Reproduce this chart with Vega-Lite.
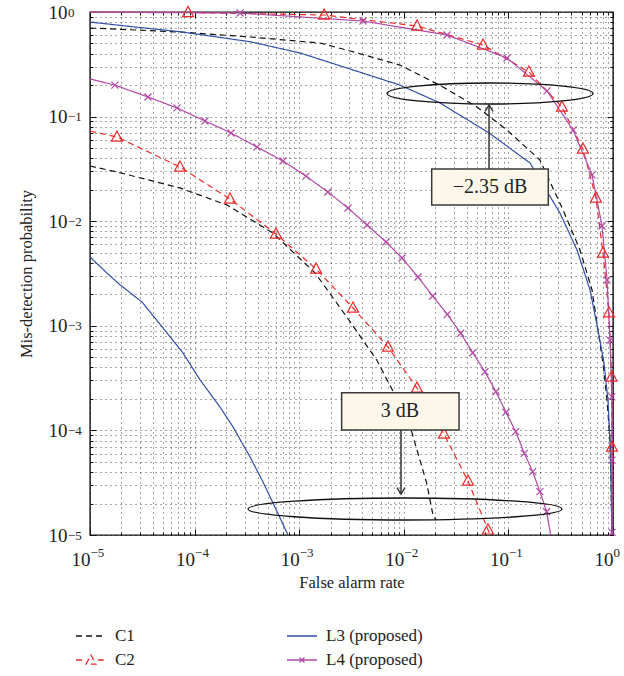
{
  "$schema": "https://vega.github.io/schema/vega-lite/v6.json",
  "width": 523,
  "height": 523,
  "autosize": "none",
  "padding": {"left": 90, "top": 12, "right": 11, "bottom": 141},
  "background": "white",
  "config": {
    "font": "Liberation Serif",
    "text": {"font": "Liberation Serif"},
    "view": {"stroke": "#111", "strokeWidth": 1.4},
    "axis": {"labelFont": "Liberation Serif", "titleFont": "Liberation Serif", "labelColor": "#222", "titleColor": "#222", "tickColor": "#111", "titleFontWeight": "normal"}
  },
  "datasets": {
    "curves": [
      {"series": "C1", "curve": "C1a", "x": 1e-5, "y": 0.703},
      {"series": "C1", "curve": "C1a", "x": 2.69e-5, "y": 0.673},
      {"series": "C1", "curve": "C1a", "x": 7.25e-5, "y": 0.644},
      {"series": "C1", "curve": "C1a", "x": 3.39e-4, "y": 0.577},
      {"series": "C1", "curve": "C1a", "x": 1.58e-3, "y": 0.505},
      {"series": "C1", "curve": "C1a", "x": 3.07e-3, "y": 0.424},
      {"series": "C1", "curve": "C1a", "x": 9.2e-3, "y": 0.311},
      {"series": "C1", "curve": "C1a", "x": 0.0237, "y": 0.192},
      {"series": "C1", "curve": "C1a", "x": 0.0501, "y": 0.1235},
      {"series": "C1", "curve": "C1a", "x": 0.097, "y": 0.0744},
      {"series": "C1", "curve": "C1a", "x": 0.2, "y": 0.0385},
      {"series": "C1", "curve": "C1a", "x": 0.333, "y": 0.0128},
      {"series": "C1", "curve": "C1a", "x": 0.484, "y": 0.0053},
      {"series": "C1", "curve": "C1a", "x": 0.63, "y": 0.0022},
      {"series": "C1", "curve": "C1a", "x": 0.719, "y": 9.1e-4},
      {"series": "C1", "curve": "C1a", "x": 0.802, "y": 4.41e-4},
      {"series": "C1", "curve": "C1a", "x": 0.877, "y": 1.95e-4},
      {"series": "C1", "curve": "C1a", "x": 0.935, "y": 8.1e-5},
      {"series": "C1", "curve": "C1a", "x": 0.957, "y": 3.36e-5},
      {"series": "C1", "curve": "C1a", "x": 0.977, "y": 1e-5},

      {"series": "C1", "curve": "C1b", "x": 1e-5, "y": 0.0337},
      {"series": "C1", "curve": "C1b", "x": 1.81e-5, "y": 0.02955},
      {"series": "C1", "curve": "C1b", "x": 7.25e-5, "y": 0.0208},
      {"series": "C1", "curve": "C1b", "x": 2.04e-4, "y": 0.01428},
      {"series": "C1", "curve": "C1b", "x": 5.62e-4, "y": 0.0077},
      {"series": "C1", "curve": "C1b", "x": 1.42e-3, "y": 0.0032},
      {"series": "C1", "curve": "C1b", "x": 2.84e-3, "y": 1.22e-3},
      {"series": "C1", "curve": "C1b", "x": 5.51e-3, "y": 4.71e-4},
      {"series": "C1", "curve": "C1b", "x": 7.94e-3, "y": 2.34e-4},
      {"series": "C1", "curve": "C1b", "x": 0.01189, "y": 9.72e-5},
      {"series": "C1", "curve": "C1b", "x": 0.01656, "y": 3.12e-5},
      {"series": "C1", "curve": "C1b", "x": 0.01914, "y": 1.5e-5},
      {"series": "C1", "curve": "C1b", "x": 0.0206, "y": 1.39e-5},

      {"series": "C2", "curve": "C2a", "x": 1e-5, "y": 0.995},
      {"series": "C2", "curve": "C2a", "x": 8.65e-5, "y": 0.99},
      {"series": "C2", "curve": "C2a", "x": 1.73e-3, "y": 0.936},
      {"series": "C2", "curve": "C2a", "x": 0.01337, "y": 0.735},
      {"series": "C2", "curve": "C2a", "x": 0.0571, "y": 0.484},
      {"series": "C2", "curve": "C2a", "x": 0.157, "y": 0.267},
      {"series": "C2", "curve": "C2a", "x": 0.325, "y": 0.1235},
      {"series": "C2", "curve": "C2a", "x": 0.516, "y": 0.049},
      {"series": "C2", "curve": "C2a", "x": 0.687, "y": 0.01667},
      {"series": "C2", "curve": "C2a", "x": 0.802, "y": 0.00497},
      {"series": "C2", "curve": "C2a", "x": 0.916, "y": 0.00133},
      {"series": "C2", "curve": "C2a", "x": 0.97, "y": 3.24e-4},
      {"series": "C2", "curve": "C2a", "x": 0.978, "y": 6.94e-5},
      {"series": "C2", "curve": "C2a", "x": 0.98, "y": 1e-5},

      {"series": "C2", "curve": "C2b", "x": 1e-5, "y": 0.0728},
      {"series": "C2", "curve": "C2b", "x": 1.81e-5, "y": 0.0638},
      {"series": "C2", "curve": "C2b", "x": 7.25e-5, "y": 0.033},
      {"series": "C2", "curve": "C2b", "x": 2.18e-4, "y": 0.0163},
      {"series": "C2", "curve": "C2b", "x": 6.0e-4, "y": 0.00755},
      {"series": "C2", "curve": "C2b", "x": 1.45e-3, "y": 0.00349},
      {"series": "C2", "curve": "C2b", "x": 3.27e-3, "y": 0.00148},
      {"series": "C2", "curve": "C2b", "x": 7.06e-3, "y": 6.27e-4},
      {"series": "C2", "curve": "C2b", "x": 0.01337, "y": 2.54e-4},
      {"series": "C2", "curve": "C2b", "x": 0.0242, "y": 9.24e-5},
      {"series": "C2", "curve": "C2b", "x": 0.0411, "y": 3.28e-5},
      {"series": "C2", "curve": "C2b", "x": 0.0638, "y": 1.12e-5},
      {"series": "C2", "curve": "C2b", "x": 0.0668, "y": 1e-5},

      {"series": "L3 (proposed)", "curve": "L3a", "x": 1e-5, "y": 0.802},
      {"series": "L3 (proposed)", "curve": "L3a", "x": 2.69e-5, "y": 0.719},
      {"series": "L3 (proposed)", "curve": "L3a", "x": 7.25e-5, "y": 0.648},
      {"series": "L3 (proposed)", "curve": "L3a", "x": 3.39e-4, "y": 0.52},
      {"series": "L3 (proposed)", "curve": "L3a", "x": 1.02e-3, "y": 0.406},
      {"series": "L3 (proposed)", "curve": "L3a", "x": 3.07e-3, "y": 0.285},
      {"series": "L3 (proposed)", "curve": "L3a", "x": 9.2e-3, "y": 0.2},
      {"series": "L3 (proposed)", "curve": "L3a", "x": 0.0222, "y": 0.135},
      {"series": "L3 (proposed)", "curve": "L3a", "x": 0.0653, "y": 0.0697},
      {"series": "L3 (proposed)", "curve": "L3a", "x": 0.161, "y": 0.036},
      {"series": "L3 (proposed)", "curve": "L3a", "x": 0.311, "y": 0.01198},
      {"series": "L3 (proposed)", "curve": "L3a", "x": 0.453, "y": 0.0053},
      {"series": "L3 (proposed)", "curve": "L3a", "x": 0.603, "y": 0.0022},
      {"series": "L3 (proposed)", "curve": "L3a", "x": 0.719, "y": 9.1e-4},
      {"series": "L3 (proposed)", "curve": "L3a", "x": 0.82, "y": 4.41e-4},
      {"series": "L3 (proposed)", "curve": "L3a", "x": 0.895, "y": 1.95e-4},
      {"series": "L3 (proposed)", "curve": "L3a", "x": 0.935, "y": 8.1e-5},
      {"series": "L3 (proposed)", "curve": "L3a", "x": 0.957, "y": 3.36e-5},
      {"series": "L3 (proposed)", "curve": "L3a", "x": 0.977, "y": 1e-5},

      {"series": "L3 (proposed)", "curve": "L3b", "x": 1e-5, "y": 0.00455},
      {"series": "L3 (proposed)", "curve": "L3b", "x": 1.45e-5, "y": 0.0032},
      {"series": "L3 (proposed)", "curve": "L3b", "x": 1.94e-5, "y": 0.00246},
      {"series": "L3 (proposed)", "curve": "L3b", "x": 3.14e-5, "y": 0.00169},
      {"series": "L3 (proposed)", "curve": "L3b", "x": 4.99e-5, "y": 9.53e-4},
      {"series": "L3 (proposed)", "curve": "L3b", "x": 7.74e-5, "y": 5.5e-4},
      {"series": "L3 (proposed)", "curve": "L3b", "x": 1.13e-4, "y": 3.03e-4},
      {"series": "L3 (proposed)", "curve": "L3b", "x": 1.75e-4, "y": 1.67e-4},
      {"series": "L3 (proposed)", "curve": "L3b", "x": 2.33e-4, "y": 1.08e-4},
      {"series": "L3 (proposed)", "curve": "L3b", "x": 3.39e-4, "y": 5.57e-5},
      {"series": "L3 (proposed)", "curve": "L3b", "x": 4.51e-4, "y": 3.21e-5},
      {"series": "L3 (proposed)", "curve": "L3b", "x": 5.62e-4, "y": 2.02e-5},
      {"series": "L3 (proposed)", "curve": "L3b", "x": 7.64e-4, "y": 1.05e-5},
      {"series": "L3 (proposed)", "curve": "L3b", "x": 7.8e-4, "y": 1e-5},

      {"series": "L4 (proposed)", "curve": "L4a", "x": 1e-5, "y": 0.995},
      {"series": "L4 (proposed)", "curve": "L4a", "x": 2.72e-4, "y": 0.978},
      {"series": "L4 (proposed)", "curve": "L4a", "x": 4.07e-3, "y": 0.82},
      {"series": "L4 (proposed)", "curve": "L4a", "x": 0.0259, "y": 0.603},
      {"series": "L4 (proposed)", "curve": "L4a", "x": 0.097, "y": 0.363},
      {"series": "L4 (proposed)", "curve": "L4a", "x": 0.234, "y": 0.176},
      {"series": "L4 (proposed)", "curve": "L4a", "x": 0.415, "y": 0.0744},
      {"series": "L4 (proposed)", "curve": "L4a", "x": 0.63, "y": 0.0277},
      {"series": "L4 (proposed)", "curve": "L4a", "x": 0.785, "y": 0.009},
      {"series": "L4 (proposed)", "curve": "L4a", "x": 0.877, "y": 0.00274},
      {"series": "L4 (proposed)", "curve": "L4a", "x": 0.936, "y": 7.3e-4},
      {"series": "L4 (proposed)", "curve": "L4a", "x": 0.975, "y": 2.09e-4},
      {"series": "L4 (proposed)", "curve": "L4a", "x": 0.978, "y": 5.2e-5},
      {"series": "L4 (proposed)", "curve": "L4a", "x": 0.98, "y": 1e-5},

      {"series": "L4 (proposed)", "curve": "L4b", "x": 1e-5, "y": 0.229},
      {"series": "L4 (proposed)", "curve": "L4b", "x": 1.73e-5, "y": 0.2},
      {"series": "L4 (proposed)", "curve": "L4b", "x": 3.58e-5, "y": 0.154},
      {"series": "L4 (proposed)", "curve": "L4b", "x": 6.79e-5, "y": 0.121},
      {"series": "L4 (proposed)", "curve": "L4b", "x": 1.257e-4, "y": 0.0908},
      {"series": "L4 (proposed)", "curve": "L4b", "x": 2.23e-4, "y": 0.0697},
      {"series": "L4 (proposed)", "curve": "L4b", "x": 3.95e-4, "y": 0.0512},
      {"series": "L4 (proposed)", "curve": "L4b", "x": 7.0e-4, "y": 0.0376},
      {"series": "L4 (proposed)", "curve": "L4b", "x": 1.16e-3, "y": 0.027},
      {"series": "L4 (proposed)", "curve": "L4b", "x": 1.88e-3, "y": 0.019},
      {"series": "L4 (proposed)", "curve": "L4b", "x": 2.93e-3, "y": 0.01337},
      {"series": "L4 (proposed)", "curve": "L4b", "x": 4.45e-3, "y": 0.0092},
      {"series": "L4 (proposed)", "curve": "L4b", "x": 6.76e-3, "y": 0.00633},
      {"series": "L4 (proposed)", "curve": "L4b", "x": 9.62e-3, "y": 0.00445},
      {"series": "L4 (proposed)", "curve": "L4b", "x": 0.01368, "y": 0.00293},
      {"series": "L4 (proposed)", "curve": "L4b", "x": 0.01888, "y": 0.001927},
      {"series": "L4 (proposed)", "curve": "L4b", "x": 0.02606, "y": 0.001288},
      {"series": "L4 (proposed)", "curve": "L4b", "x": 0.035, "y": 8.48e-4},
      {"series": "L4 (proposed)", "curve": "L4b", "x": 0.0456, "y": 5.53e-4},
      {"series": "L4 (proposed)", "curve": "L4b", "x": 0.0597, "y": 3.64e-4},
      {"series": "L4 (proposed)", "curve": "L4b", "x": 0.076, "y": 2.34e-4},
      {"series": "L4 (proposed)", "curve": "L4b", "x": 0.0948, "y": 1.49e-4},
      {"series": "L4 (proposed)", "curve": "L4b", "x": 0.1175, "y": 9.72e-5},
      {"series": "L4 (proposed)", "curve": "L4b", "x": 0.1419, "y": 6.04e-5},
      {"series": "L4 (proposed)", "curve": "L4b", "x": 0.1706, "y": 4.03e-5},
      {"series": "L4 (proposed)", "curve": "L4b", "x": 0.2, "y": 2.6e-5},
      {"series": "L4 (proposed)", "curve": "L4b", "x": 0.232, "y": 1.67e-5},
      {"series": "L4 (proposed)", "curve": "L4b", "x": 0.2535, "y": 1e-5}
    ],
    "triangles": [
      {"x": 8.65e-5, "y": 0.99}, {"x": 1.73e-3, "y": 0.936}, {"x": 0.01337, "y": 0.735},
      {"x": 0.0571, "y": 0.484}, {"x": 0.157, "y": 0.267}, {"x": 0.325, "y": 0.1235},
      {"x": 0.516, "y": 0.049}, {"x": 0.687, "y": 0.01667}, {"x": 0.802, "y": 0.00497},
      {"x": 0.916, "y": 0.00133}, {"x": 0.97, "y": 3.24e-4}, {"x": 0.978, "y": 6.94e-5},
      {"x": 1.81e-5, "y": 0.0638}, {"x": 7.25e-5, "y": 0.033}, {"x": 2.18e-4, "y": 0.0163},
      {"x": 6.0e-4, "y": 0.00755}, {"x": 1.45e-3, "y": 0.00349}, {"x": 3.27e-3, "y": 0.00148},
      {"x": 7.06e-3, "y": 6.27e-4}, {"x": 0.01337, "y": 2.54e-4}, {"x": 0.0242, "y": 9.24e-5},
      {"x": 0.0411, "y": 3.28e-5}, {"x": 0.0638, "y": 1.12e-5}
    ],
    "crosses": [
      {"x": 2.72e-4, "y": 0.978}, {"x": 4.07e-3, "y": 0.82}, {"x": 0.0259, "y": 0.603},
      {"x": 0.097, "y": 0.363}, {"x": 0.234, "y": 0.176}, {"x": 0.415, "y": 0.0744},
      {"x": 0.63, "y": 0.0277}, {"x": 0.785, "y": 0.009}, {"x": 0.877, "y": 0.00274},
      {"x": 0.936, "y": 7.3e-4}, {"x": 0.975, "y": 2.09e-4}, {"x": 0.978, "y": 5.2e-5},
      {"x": 0.98, "y": 1.06e-5},
      {"x": 1.73e-5, "y": 0.2}, {"x": 3.58e-5, "y": 0.154}, {"x": 6.79e-5, "y": 0.121},
      {"x": 1.257e-4, "y": 0.0908}, {"x": 2.23e-4, "y": 0.0697}, {"x": 3.95e-4, "y": 0.0512},
      {"x": 7.0e-4, "y": 0.0376}, {"x": 1.16e-3, "y": 0.027}, {"x": 1.88e-3, "y": 0.019},
      {"x": 2.93e-3, "y": 0.01337}, {"x": 4.45e-3, "y": 0.0092}, {"x": 6.76e-3, "y": 0.00633},
      {"x": 9.62e-3, "y": 0.00445}, {"x": 0.01368, "y": 0.00293}, {"x": 0.01888, "y": 0.001927},
      {"x": 0.02606, "y": 0.001288}, {"x": 0.035, "y": 8.48e-4}, {"x": 0.0456, "y": 5.53e-4},
      {"x": 0.0597, "y": 3.64e-4}, {"x": 0.076, "y": 2.34e-4}, {"x": 0.0948, "y": 1.49e-4},
      {"x": 0.1175, "y": 9.72e-5}, {"x": 0.1419, "y": 6.04e-5}, {"x": 0.1706, "y": 4.03e-5},
      {"x": 0.2, "y": 2.6e-5}, {"x": 0.232, "y": 1.67e-5}
    ],
    "ellipseUpper": [{"x": 0.0667, "y": 0.1663}],
    "ellipseLower": [{"x": 0.01027, "y": 1.773e-5}],
    "boxes": [
      {"x": 0.01848, "x2": 0.2407, "y": 0.03155, "y2": 0.01428, "label": "−2.35 dB", "tx": 0.0667, "ty": 0.02123},
      {"x": 0.002545, "x2": 0.03375, "y": 2.293e-4, "y2": 1.009e-4, "label": "3 dB", "tx": 0.0092, "ty": 1.517e-4}
    ],
    "arrows": [
      {"name": "up", "x": 0.0653, "y": 0.03155, "y2": 0.129},
      {"name": "down", "x": 0.0094, "y": 1.009e-4, "y2": 2.46e-5}
    ]
  },
  "resolve": {"axis": {"x": "independent", "y": "independent"}},
  "layer": [
    {
      "data": {"name": "curves"},
      "mark": {"type": "line", "strokeWidth": 1.2},
      "encoding": {
        "x": {"field": "x", "type": "quantitative",
          "scale": {"type": "log", "domain": [1e-5, 1], "nice": false},
          "axis": {"orient": "bottom", "values": [1e-5, 1e-4, 0.001, 0.01, 0.1, 1], "labelExpr": "'10'",
            "ticks": false, "grid": false, "domain": false, "labelFlush": false, "labelOverlap": false, "labelBound": false,
            "labelFontSize": 19, "labelPadding": 24, "labelBaseline": "middle", "labelAlign": "right", "labelDx": 2,
            "title": "False alarm rate", "titleFontSize": 16.5, "titlePadding": 5}},
        "y": {"field": "y", "type": "quantitative",
          "scale": {"type": "log", "domain": [1e-5, 1], "nice": false},
          "axis": {"orient": "left", "values": [1e-5, 1e-4, 0.001, 0.01, 0.1, 1], "labelExpr": "'10'",
            "ticks": false, "grid": false, "domain": false, "labelFlush": false, "labelOverlap": false, "labelBound": false,
            "labelFontSize": 19, "labelPadding": 23, "labelBaseline": "middle", "labelAlign": "right", "labelDy": 0,
            "title": "Mis-detection probability", "titleFontSize": 16.5, "titlePadding": 14}},
        "detail": {"field": "curve"},
        "order": {"field": "y", "sort": "descending"},
        "color": {"field": "series", "type": "nominal",
          "scale": {"domain": ["C1", "C2", "L3 (proposed)", "L4 (proposed)"], "range": ["#111111", "#ee2a2a", "#3050a8", "#b04aa6"]},
          "legend": {"title": null, "orient": "none", "legendX": -15, "legendY": 608, "columns": 2, "columnPadding": 149, "rowPadding": -2,
            "padding": 0, "labelFont": "Liberation Serif", "labelFontSize": 17, "labelColor": "#222", "labelOffset": 8,
            "symbolSize": 900, "symbolStrokeWidth": 1.3, "gridAlign": "each",
            "encode": {"symbols": {"update": {
              "shape": {"signal": "datum.value === 'C2' ? 'M-1,0L-0.45,0M0.45,0L1,0M-0.33,0.28L0,-0.33L0.33,0.28Z' : datum.value === 'L4 (proposed)' ? 'M-1,0L1,0M-0.17,-0.17L0.17,0.17M-0.17,0.17L0.17,-0.17' : 'M-1,0L1,0'"},
              "strokeDash": {"signal": "datum.value === 'C1' ? [6,4] : [1,0]"},
              "fill": {"value": "transparent"}}}}}},
        "strokeDash": {"field": "series", "type": "nominal",
          "scale": {"domain": ["C1", "C2", "L3 (proposed)", "L4 (proposed)"], "range": [[6, 4], [6, 4], [1, 0], [1, 0]]},
          "legend": null}
      }
    },
    {
      "data": {"name": "triangles"},
      "mark": {"type": "point", "shape": "M0,-1.1L1,0.75L-1,0.75Z", "size": 121, "filled": false, "stroke": "#ee2a2a", "strokeWidth": 1.2, "opacity": 1},
      "encoding": {
        "x": {"field": "x", "type": "quantitative", "scale": {"type": "log", "domain": [1e-5, 1], "nice": false},
          "axis": {"orient": "bottom", "values": [1e-5,2e-5,3e-5,4e-5,5e-5,6e-5,7e-5,8e-5,9e-5,1e-4,2e-4,3e-4,4e-4,5e-4,6e-4,7e-4,8e-4,9e-4,0.001,0.002,0.003,0.004,0.005,0.006,0.007,0.008,0.009,0.01,0.02,0.03,0.04,0.05,0.06,0.07,0.08,0.09,0.1,0.2,0.3,0.4,0.5,0.6,0.7,0.8,0.9,1],
            "labels": false, "ticks": true, "tickSize": -3, "grid": true, "gridDash": [1, 4], "gridColor": "#000", "gridOpacity": 0.7, "domain": false, "title": null}},
        "y": {"field": "y", "type": "quantitative", "scale": {"type": "log", "domain": [1e-5, 1], "nice": false},
          "axis": {"orient": "left", "values": [1e-5,2e-5,3e-5,4e-5,5e-5,6e-5,7e-5,8e-5,9e-5,1e-4,2e-4,3e-4,4e-4,5e-4,6e-4,7e-4,8e-4,9e-4,0.001,0.002,0.003,0.004,0.005,0.006,0.007,0.008,0.009,0.01,0.02,0.03,0.04,0.05,0.06,0.07,0.08,0.09,0.1,0.2,0.3,0.4,0.5,0.6,0.7,0.8,0.9,1],
            "labels": false, "ticks": true, "tickSize": -3, "grid": true, "gridDash": [1, 4], "gridColor": "#000", "gridOpacity": 0.7, "domain": false, "title": null}}
      }
    },
    {
      "data": {"name": "crosses"},
      "mark": {"type": "point", "shape": "M-1,-1L1,1M-1,1L1,-1", "size": 49, "filled": false, "stroke": "#b04aa6", "strokeWidth": 1.2, "opacity": 1},
      "encoding": {
        "x": {"field": "x", "type": "quantitative", "scale": {"type": "log", "domain": [1e-5, 1], "nice": false},
          "axis": {"orient": "top", "values": [1e-5,2e-5,3e-5,4e-5,5e-5,6e-5,7e-5,8e-5,9e-5,1e-4,2e-4,3e-4,4e-4,5e-4,6e-4,7e-4,8e-4,9e-4,0.001,0.002,0.003,0.004,0.005,0.006,0.007,0.008,0.009,0.01,0.02,0.03,0.04,0.05,0.06,0.07,0.08,0.09,0.1,0.2,0.3,0.4,0.5,0.6,0.7,0.8,0.9,1],
            "labels": false, "ticks": true, "tickSize": -3, "grid": false, "domain": false, "title": null}},
        "y": {"field": "y", "type": "quantitative", "scale": {"type": "log", "domain": [1e-5, 1], "nice": false},
          "axis": {"orient": "right", "values": [1e-5,2e-5,3e-5,4e-5,5e-5,6e-5,7e-5,8e-5,9e-5,1e-4,2e-4,3e-4,4e-4,5e-4,6e-4,7e-4,8e-4,9e-4,0.001,0.002,0.003,0.004,0.005,0.006,0.007,0.008,0.009,0.01,0.02,0.03,0.04,0.05,0.06,0.07,0.08,0.09,0.1,0.2,0.3,0.4,0.5,0.6,0.7,0.8,0.9,1],
            "labels": false, "ticks": true, "tickSize": -3, "grid": false, "domain": false, "title": null}}
      }
    },
    {
      "data": {"name": "ellipseUpper"},
      "mark": {"type": "point", "shape": "M-1,0C-1,-0.0563,-0.5523,-0.102,0,-0.102C0.5523,-0.102,1,-0.0563,1,0C1,0.0563,0.5523,0.102,0,0.102C-0.5523,0.102,-1,0.0563,-1,0Z", "size": 42436, "filled": false, "stroke": "#111", "strokeWidth": 1.3, "opacity": 1},
      "encoding": {
        "x": {"field": "x", "type": "quantitative", "scale": {"type": "log", "domain": [1e-5, 1], "nice": false},
          "axis": {"orient": "bottom", "values": [1e-5, 1e-4, 0.001, 0.01, 0.1, 1], "labels": false, "ticks": true, "tickSize": -6, "grid": false, "domain": false, "title": null}},
        "y": {"field": "y", "type": "quantitative", "scale": {"type": "log", "domain": [1e-5, 1], "nice": false},
          "axis": {"orient": "left", "values": [1e-5, 1e-4, 0.001, 0.01, 0.1, 1], "labels": false, "ticks": true, "tickSize": -6, "grid": false, "domain": false, "title": null}}
      }
    },
    {
      "data": {"name": "ellipseLower"},
      "mark": {"type": "point", "shape": "M-1,0C-1,-0.0387,-0.5523,-0.07,0,-0.07C0.5523,-0.07,1,-0.0387,1,0C1,0.0387,0.5523,0.07,0,0.07C-0.5523,0.07,-1,0.0387,-1,0Z", "size": 98596, "filled": false, "stroke": "#111", "strokeWidth": 1.3, "opacity": 1},
      "encoding": {
        "x": {"field": "x", "type": "quantitative", "scale": {"type": "log", "domain": [1e-5, 1], "nice": false},
          "axis": {"orient": "top", "values": [1e-5, 1e-4, 0.001, 0.01, 0.1, 1], "labels": false, "ticks": true, "tickSize": -6, "grid": false, "domain": false, "title": null}},
        "y": {"field": "y", "type": "quantitative", "scale": {"type": "log", "domain": [1e-5, 1], "nice": false},
          "axis": {"orient": "right", "values": [1e-5, 1e-4, 0.001, 0.01, 0.1, 1], "labels": false, "ticks": true, "tickSize": -6, "grid": false, "domain": false, "title": null}}
      }
    },
    {
      "data": {"name": "arrows"},
      "mark": {"type": "rule", "stroke": "#333", "strokeWidth": 1.5},
      "encoding": {
        "x": {"field": "x", "type": "quantitative", "scale": {"type": "log", "domain": [1e-5, 1], "nice": false},
          "axis": {"orient": "bottom", "values": [1e-5, 1e-4, 0.001, 0.01, 0.1, 1], "labelExpr": "['−5','−4','−3','−2','−1','0'][round(log(datum.value)/LN10)+5]",
            "ticks": false, "grid": false, "domain": false, "labelFlush": false, "labelOverlap": false, "labelBound": false,
            "labelFontSize": 13, "labelPadding": 17, "labelBaseline": "middle", "labelAlign": "left", "labelDx": 3, "title": null}},
        "y": {"field": "y", "type": "quantitative", "scale": {"type": "log", "domain": [1e-5, 1], "nice": false},
          "axis": {"orient": "left", "values": [1e-5, 1e-4, 0.001, 0.01, 0.1, 1], "labelExpr": "['−5','−4','−3','−2','−1','0'][round(log(datum.value)/LN10)+5]",
            "ticks": false, "grid": false, "domain": false, "labelFlush": false, "labelOverlap": false, "labelBound": false,
            "labelFontSize": 13, "labelPadding": 22.5, "labelBaseline": "middle", "labelAlign": "left", "labelDy": -7, "title": null}},
        "y2": {"field": "y2"}
      }
    },
    {
      "data": {"name": "arrows"},
      "transform": [{"filter": "datum.name === 'up'"}],
      "mark": {"type": "point", "shape": "M-1,1.6L0,0L1,1.6", "size": 64, "filled": false, "stroke": "#333", "strokeWidth": 1.4, "opacity": 1},
      "encoding": {
        "x": {"field": "x", "type": "quantitative", "scale": {"type": "log", "domain": [1e-5, 1], "nice": false}, "axis": null},
        "y": {"field": "y2", "type": "quantitative", "scale": {"type": "log", "domain": [1e-5, 1], "nice": false}, "axis": null}
      }
    },
    {
      "data": {"name": "arrows"},
      "transform": [{"filter": "datum.name === 'down'"}],
      "mark": {"type": "point", "shape": "M-1,-1.6L0,0L1,-1.6", "size": 64, "filled": false, "stroke": "#333", "strokeWidth": 1.4, "opacity": 1},
      "encoding": {
        "x": {"field": "x", "type": "quantitative", "scale": {"type": "log", "domain": [1e-5, 1], "nice": false}, "axis": null},
        "y": {"field": "y2", "type": "quantitative", "scale": {"type": "log", "domain": [1e-5, 1], "nice": false}, "axis": null}
      }
    },
    {
      "data": {"name": "boxes"},
      "mark": {"type": "rect", "fill": "#fdf7ea", "stroke": "#3a3a3a", "strokeWidth": 1.5},
      "encoding": {
        "x": {"field": "x", "type": "quantitative", "scale": {"type": "log", "domain": [1e-5, 1], "nice": false}, "axis": null},
        "x2": {"field": "x2"},
        "y": {"field": "y", "type": "quantitative", "scale": {"type": "log", "domain": [1e-5, 1], "nice": false}, "axis": null},
        "y2": {"field": "y2"}
      }
    },
    {
      "data": {"name": "boxes"},
      "mark": {"type": "text", "font": "Liberation Serif", "fontSize": 20, "color": "#222", "align": "center", "baseline": "middle"},
      "encoding": {
        "x": {"field": "tx", "type": "quantitative", "scale": {"type": "log", "domain": [1e-5, 1], "nice": false}, "axis": null},
        "y": {"field": "ty", "type": "quantitative", "scale": {"type": "log", "domain": [1e-5, 1], "nice": false}, "axis": null},
        "text": {"field": "label"}
      }
    }
  ]
}
